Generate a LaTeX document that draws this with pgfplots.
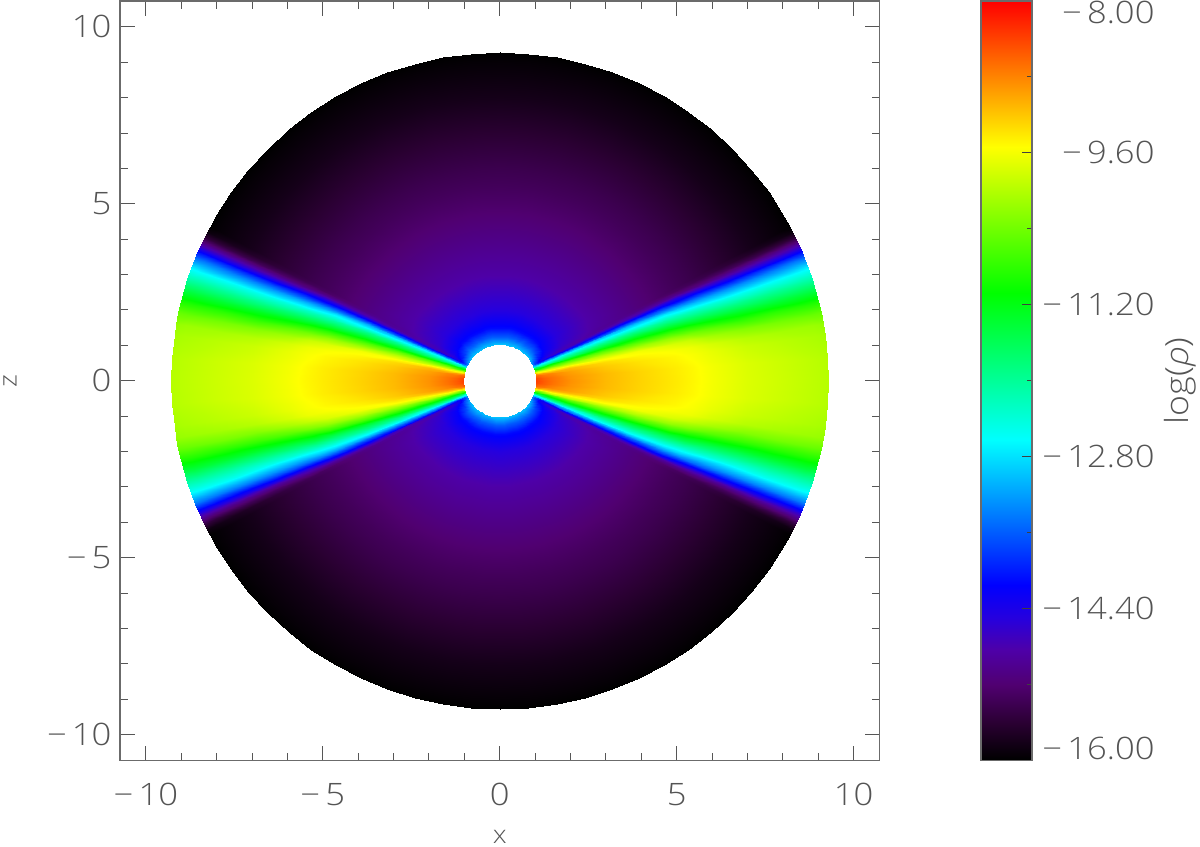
\documentclass[border=0pt]{standalone}
\usepackage{fontspec}
\setmainfont{Open Sans}[UprightFont=* Light,ItalicFont=* Light Italic,FakeStretch=1.12]
\usepackage{pgfplots}
\usepackage{pgfplotstable}
\pgfplotsset{compat=1.18}

\definecolor{axgray}{gray}{0.42}
\definecolor{txtgray}{gray}{0.33}
\newcommand{\lab}{\fontsize{31}{35}\selectfont\color{txtgray}}

\pgfplotsset{
  colormap={rho}{
    rgb255(0pt)=(0,0,0) rgb255(40pt)=(42,0,50) rgb255(80pt)=(80,0,112)
    rgb255(116pt)=(78,0,168) rgb255(150pt)=(38,0,222) rgb255(185pt)=(0,0,255)
    rgb255(338pt)=(0,255,255) rgb255(492pt)=(0,255,0) rgb255(646pt)=(255,255,0)
    rgb255(800pt)=(255,0,0)},
  quad/.style={surf,shader=interp,mesh/cols=29,point meta=\thisrow{v}},
}

% log density: radius, angle above the equator (deg), value
\pgfplotstableread[row sep=\\]{
r t v\\
1.03 0 -8.38\\1.03 4 -8.42\\1.03 8 -8.6\\1.03 10 -8.85\\1.03 12 -9.3\\1.03 14 -9.85\\1.03 16 -10.5\\1.03 18 -11.1\\1.03 20 -11.75\\1.03 22 -12.4\\1.03 23 -12.75\\1.03 24 -13.05\\1.03 25 -13.3\\1.03 26 -13.4\\1.03 27 -13.4\\1.03 28 -13.35\\1.03 30 -13.25\\1.03 35 -13.1\\1.03 40 -13\\1.03 45 -13\\1.03 50 -13\\1.03 55 -13\\1.03 60 -13\\1.03 65 -13\\1.03 70 -13\\1.03 75 -13\\1.03 80 -13\\1.03 85 -13\\1.03 90 -13\\
1.1 0 -8.45\\1.1 4 -8.48\\1.1 8 -8.65\\1.1 10 -8.9\\1.1 12 -9.32\\1.1 14 -9.87\\1.1 16 -10.5\\1.1 18 -11.1\\1.1 20 -11.75\\1.1 22 -12.45\\1.1 23 -12.85\\1.1 24 -13.25\\1.1 25 -13.6\\1.1 26 -13.75\\1.1 27 -13.75\\1.1 28 -13.7\\1.1 30 -13.55\\1.1 35 -13.35\\1.1 40 -13.25\\1.1 45 -13.2\\1.1 50 -13.2\\1.1 55 -13.2\\1.1 60 -13.2\\1.1 65 -13.2\\1.1 70 -13.2\\1.1 75 -13.2\\1.1 80 -13.2\\1.1 85 -13.2\\1.1 90 -13.2\\
1.25 0 -8.55\\1.25 4 -8.58\\1.25 8 -8.72\\1.25 10 -8.95\\1.25 12 -9.35\\1.25 14 -9.9\\1.25 16 -10.55\\1.25 18 -11.15\\1.25 20 -11.8\\1.25 22 -12.5\\1.25 23 -12.95\\1.25 24 -13.45\\1.25 25 -13.95\\1.25 26 -14.2\\1.25 27 -14.25\\1.25 28 -14.2\\1.25 30 -14.05\\1.25 35 -13.85\\1.25 40 -13.7\\1.25 45 -13.6\\1.25 50 -13.6\\1.25 55 -13.6\\1.25 60 -13.6\\1.25 65 -13.6\\1.25 70 -13.6\\1.25 75 -13.6\\1.25 80 -13.6\\1.25 85 -13.6\\1.25 90 -13.6\\
1.5 0 -8.68\\1.5 4 -8.7\\1.5 8 -8.82\\1.5 10 -9.02\\1.5 12 -9.4\\1.5 14 -9.93\\1.5 16 -10.55\\1.5 18 -11.15\\1.5 20 -11.8\\1.5 22 -12.5\\1.5 23 -12.95\\1.5 24 -13.5\\1.5 25 -14.05\\1.5 26 -14.45\\1.5 27 -14.55\\1.5 28 -14.5\\1.5 30 -14.35\\1.5 35 -14.2\\1.5 40 -14.15\\1.5 45 -14.1\\1.5 50 -14.1\\1.5 55 -14.1\\1.5 60 -14.1\\1.5 65 -14.1\\1.5 70 -14.1\\1.5 75 -14.1\\1.5 80 -14.1\\1.5 85 -14.1\\1.5 90 -14.1\\
2 0 -8.88\\2 4 -8.9\\2 8 -8.98\\2 10 -9.12\\2 12 -9.45\\2 14 -9.95\\2 16 -10.55\\2 18 -11.2\\2 20 -11.85\\2 22 -12.55\\2 23 -13\\2 24 -13.55\\2 25 -14.1\\2 26 -14.6\\2 27 -14.75\\2 28 -14.72\\2 30 -14.62\\2 35 -14.55\\2 40 -14.5\\2 45 -14.5\\2 50 -14.5\\2 55 -14.5\\2 60 -14.5\\2 65 -14.5\\2 70 -14.5\\2 75 -14.5\\2 80 -14.5\\2 85 -14.5\\2 90 -14.5\\
3 0 -9.12\\3 4 -9.13\\3 8 -9.22\\3 10 -9.32\\3 12 -9.55\\3 14 -10\\3 16 -10.6\\3 18 -11.25\\3 20 -11.9\\3 22 -12.6\\3 23 -13.05\\3 24 -13.6\\3 25 -14.15\\3 26 -14.7\\3 27 -14.9\\3 28 -14.92\\3 30 -14.88\\3 35 -14.85\\3 40 -14.85\\3 45 -14.85\\3 50 -14.85\\3 55 -14.85\\3 60 -14.85\\3 65 -14.85\\3 70 -14.85\\3 75 -14.85\\3 80 -14.85\\3 85 -14.85\\3 90 -14.85\\
4 0 -9.28\\4 4 -9.29\\4 8 -9.38\\4 10 -9.48\\4 12 -9.62\\4 14 -10.05\\4 16 -10.65\\4 18 -11.3\\4 20 -11.95\\4 22 -12.65\\4 23 -13.1\\4 24 -13.65\\4 25 -14.2\\4 26 -14.75\\4 27 -15\\4 28 -15.05\\4 30 -15.05\\4 35 -15.05\\4 40 -15.05\\4 45 -15.05\\4 50 -15.05\\4 55 -15.05\\4 60 -15.05\\4 65 -15.05\\4 70 -15.05\\4 75 -15.05\\4 80 -15.05\\4 85 -15.05\\4 90 -15.05\\
5 0 -9.42\\5 4 -9.43\\5 8 -9.5\\5 10 -9.58\\5 12 -9.78\\5 14 -10.2\\5 16 -10.8\\5 18 -11.45\\5 20 -12.1\\5 22 -12.8\\5 23 -13.25\\5 24 -13.8\\5 25 -14.35\\5 26 -14.9\\5 27 -15.18\\5 28 -15.25\\5 30 -15.25\\5 35 -15.25\\5 40 -15.25\\5 45 -15.25\\5 50 -15.25\\5 55 -15.25\\5 60 -15.25\\5 65 -15.25\\5 70 -15.25\\5 75 -15.25\\5 80 -15.25\\5 85 -15.25\\5 90 -15.25\\
5.5 0 -9.5\\5.5 4 -9.51\\5.5 8 -9.58\\5.5 10 -9.65\\5.5 12 -9.88\\5.5 14 -10.32\\5.5 16 -10.92\\5.5 18 -11.55\\5.5 20 -12.2\\5.5 22 -12.95\\5.5 23 -13.4\\5.5 24 -13.95\\5.5 25 -14.5\\5.5 26 -15\\5.5 27 -15.28\\5.5 28 -15.34\\5.5 30 -15.34\\5.5 35 -15.34\\5.5 40 -15.34\\5.5 45 -15.34\\5.5 50 -15.34\\5.5 55 -15.34\\5.5 60 -15.34\\5.5 65 -15.34\\5.5 70 -15.34\\5.5 75 -15.34\\5.5 80 -15.34\\5.5 85 -15.34\\5.5 90 -15.34\\
6 0 -9.6\\6 4 -9.61\\6 8 -9.68\\6 10 -9.78\\6 12 -10.05\\6 14 -10.5\\6 16 -11.08\\6 18 -11.7\\6 20 -12.32\\6 22 -13.1\\6 23 -13.55\\6 24 -14.1\\6 25 -14.65\\6 26 -15.1\\6 27 -15.36\\6 28 -15.42\\6 30 -15.42\\6 35 -15.42\\6 40 -15.42\\6 45 -15.42\\6 50 -15.42\\6 55 -15.42\\6 60 -15.42\\6 65 -15.42\\6 70 -15.42\\6 75 -15.42\\6 80 -15.42\\6 85 -15.42\\6 90 -15.42\\
7 0 -9.75\\7 4 -9.76\\7 8 -9.86\\7 10 -9.98\\7 12 -10.28\\7 14 -10.75\\7 16 -11.3\\7 18 -11.9\\7 20 -12.5\\7 22 -13.3\\7 23 -13.8\\7 24 -14.35\\7 25 -14.9\\7 26 -15.3\\7 27 -15.53\\7 28 -15.6\\7 30 -15.6\\7 35 -15.6\\7 40 -15.6\\7 45 -15.6\\7 50 -15.6\\7 55 -15.6\\7 60 -15.6\\7 65 -15.6\\7 70 -15.6\\7 75 -15.6\\7 80 -15.6\\7 85 -15.6\\7 90 -15.6\\
8 0 -9.85\\8 4 -9.86\\8 8 -9.96\\8 10 -10.08\\8 12 -10.37\\8 14 -10.83\\8 16 -11.38\\8 18 -11.98\\8 20 -12.56\\8 22 -13.38\\8 23 -13.9\\8 24 -14.48\\8 25 -15\\8 26 -15.42\\8 27 -15.7\\8 28 -15.8\\8 30 -15.8\\8 35 -15.8\\8 40 -15.8\\8 45 -15.8\\8 50 -15.8\\8 55 -15.8\\8 60 -15.8\\8 65 -15.8\\8 70 -15.8\\8 75 -15.8\\8 80 -15.8\\8 85 -15.8\\8 90 -15.8\\
9 0 -9.95\\9 4 -9.96\\9 8 -10.05\\9 10 -10.15\\9 12 -10.45\\9 14 -10.9\\9 16 -11.45\\9 18 -12.05\\9 20 -12.62\\9 22 -13.45\\9 23 -14\\9 24 -14.6\\9 25 -15.1\\9 26 -15.55\\9 27 -15.85\\9 28 -15.95\\9 30 -15.95\\9 35 -15.95\\9 40 -15.95\\9 45 -15.95\\9 50 -15.95\\9 55 -15.95\\9 60 -15.95\\9 65 -15.95\\9 70 -15.95\\9 75 -15.95\\9 80 -15.95\\9 85 -15.95\\9 90 -15.95\\
9.28 0 -9.98\\9.28 4 -9.99\\9.28 8 -10.08\\9.28 10 -10.18\\9.28 12 -10.48\\9.28 14 -10.93\\9.28 16 -11.48\\9.28 18 -12.08\\9.28 20 -12.65\\9.28 22 -13.48\\9.28 23 -14.03\\9.28 24 -14.63\\9.28 25 -15.13\\9.28 26 -15.58\\9.28 27 -15.9\\9.28 28 -16\\9.28 30 -16\\9.28 35 -16\\9.28 40 -16\\9.28 45 -16\\9.28 50 -16\\9.28 55 -16\\9.28 60 -16\\9.28 65 -16\\9.28 70 -16\\9.28 75 -16\\9.28 80 -16\\9.28 85 -16\\9.28 90 -16\\
}\rhotab

% colour bar strip
\pgfplotstableread[row sep=\\]{
x y\\
0 -16\\1 -16\\0 -15.6\\1 -15.6\\0 -15.2\\1 -15.2\\0 -14.84\\1 -14.84\\0 -14.5\\1 -14.5\\
0 -14.15\\1 -14.15\\0 -12.62\\1 -12.62\\0 -11.08\\1 -11.08\\0 -9.54\\1 -9.54\\0 -8\\1 -8\\
}\bartab

\begin{document}
\begin{tikzpicture}
  \path[use as bounding box] (0,0) rectangle (1200bp,847bp);
  \begin{axis}[
      at={(120bp,86.5bp)}, anchor=south west,
      scale only axis, width=759.5bp, height=759.5bp,
      xmin=-10.73, xmax=10.73, ymin=-10.73, ymax=10.73,
      xtick={-10,-5,0,5,10}, ytick={-10,-5,0,5,10},
      xticklabels={−\,10,−\,5,0,5,10}, yticklabels={−\,10,−\,5,0,5,10},
      minor tick num=4,
      tick align=inside, tickpos=both,
      major tick length=15bp, minor tick length=8bp,
      axis line style={axgray,line width=1.4bp},
      every tick/.style={axgray!80!black,line width=1bp},
      tick label style={font=\lab},
      xticklabel style={yshift=-19bp},
      yticklabel style={xshift=-5bp},
      xlabel={x}, ylabel={z},
      label style={font=\fontsize{25}{28}\selectfont\color{txtgray}},
      xlabel style={at={(0.5,0)},anchor=center,yshift=-76bp},
      ylabel style={at={(0,0.5)},anchor=center,rotate=0,yshift=110bp},
      axis on top,
      colormap name=rho,
      point meta min=-16, point meta max=-8,
    ]
    \addplot[quad] table[x expr={\thisrow{r}*cos(\thisrow{t})},y expr={\thisrow{r}*sin(\thisrow{t})}] {\rhotab};
    \addplot[quad] table[x expr={-\thisrow{r}*cos(\thisrow{t})},y expr={\thisrow{r}*sin(\thisrow{t})}] {\rhotab};
    \addplot[quad] table[x expr={\thisrow{r}*cos(\thisrow{t})},y expr={-\thisrow{r}*sin(\thisrow{t})}] {\rhotab};
    \addplot[quad] table[x expr={-\thisrow{r}*cos(\thisrow{t})},y expr={-\thisrow{r}*sin(\thisrow{t})}] {\rhotab};
  \end{axis}
  \begin{axis}[
      at={(981bp,86.5bp)}, anchor=south west,
      scale only axis, width=51bp, height=759.5bp,
      xmin=0, xmax=1, ymin=-16, ymax=-8,
      xtick=\empty,
      ytick={-16,-14.4,-12.8,-11.2,-9.6,-8},
      yticklabels={\raisebox{1bp}[0pt][0pt]{−\,16.00},−\,14.40,−\,12.80,−\,11.20,−\,9.60,\raisebox{-23bp}[0pt][0pt]{−\,8.00}},
      minor y tick num=1,
      tick align=inside, ytick pos=right, yticklabel pos=right,
      major tick length=10bp, minor tick length=5bp,
      axis line style={axgray,line width=1.4bp},
      every tick/.style={black!75,line width=1bp},
      yticklabel style={font=\lab,anchor=east,xshift=126bp},
      ylabel={log(\textit{ρ})},
      ylabel style={font=\fontsize{32}{36}\selectfont\color{txtgray},at={(1,0.5)},anchor=center,rotate=0,yshift=-148bp},
      axis on top,
      colormap name=rho,
      point meta min=-16, point meta max=-8,
    ]
    \addplot[surf,shader=interp,mesh/cols=2,point meta=y] table[x=x,y=y] {\bartab};
  \end{axis}
\end{tikzpicture}
\end{document}
